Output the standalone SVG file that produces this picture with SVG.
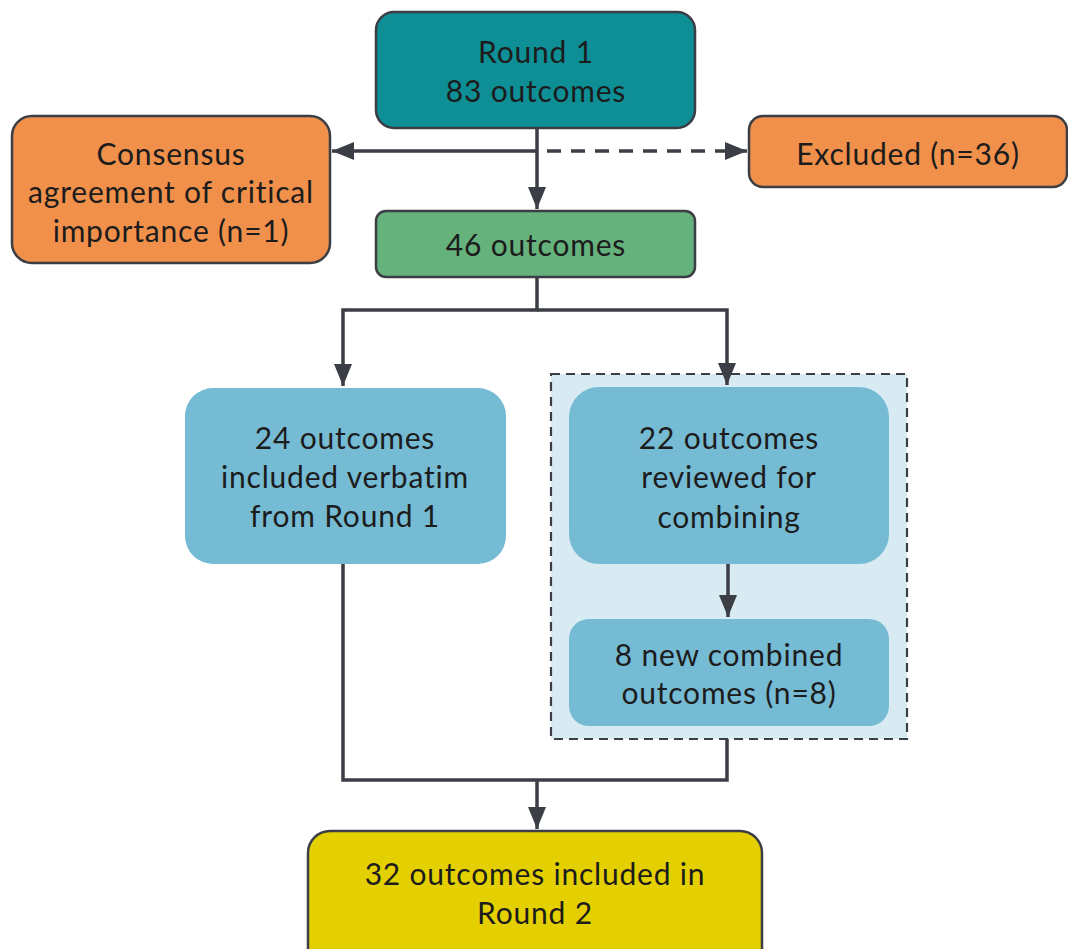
<svg xmlns="http://www.w3.org/2000/svg" width="1068" height="949" viewBox="0 0 1068 949">
  <style>
    .node { stroke: #3b3e45; stroke-width: 2.5; }
    .soft { stroke: none; }
    .lbl { font-family: "Lato", "Noto Sans", "Liberation Sans", sans-serif; font-size: 30px; letter-spacing: 0.8px; fill: #1c1c1c; text-anchor: middle; }
    .wire { fill: none; stroke: #3b3e45; stroke-width: 3.5; }
    .dash { stroke-dasharray: 14 10; }
  </style>
  <defs>
    <marker id="tip" viewBox="0 0 22 18" refX="22" refY="9" markerWidth="22" markerHeight="18" markerUnits="userSpaceOnUse" orient="auto">
      <path d="M0,0 L22,9 L0,18 z" fill="#3b3e45"/>
    </marker>
  </defs>

  <!-- grouping frame around the combining step -->
  <g id="combine-group">
    <rect x="551" y="374" width="356" height="365" fill="#d8ebf2" stroke="#3b3e45" stroke-width="2.2" stroke-dasharray="9 6"/>
  </g>

  <g id="connectors">
    <!-- Round 1 split -->
    <path class="wire" d="M537,128 V209" marker-end="url(#tip)"/>
    <path class="wire" d="M537,151 H332" marker-end="url(#tip)"/>
    <path class="wire dash" d="M547,151 H747" marker-end="url(#tip)"/>
    <!-- 46 outcomes split -->
    <path class="wire" d="M537,277 V310 H343 V386" marker-end="url(#tip)"/>
    <path class="wire" d="M537,310 H727 V385" marker-end="url(#tip)"/>
    <!-- combining -->
    <path class="wire" d="M728,564 V617" marker-end="url(#tip)"/>
    <!-- merge into Round 2 -->
    <path class="wire" d="M343,564 V780 H727 V739"/>
    <path class="wire" d="M537,780 V829" marker-end="url(#tip)"/>
  </g>

  <g id="round1">
    <rect class="node" x="376" y="12" width="319" height="116" rx="18" fill="#0d8f95"/>
    <text class="lbl" x="536" y="63">Round 1</text>
    <text class="lbl" x="536" y="102">83 outcomes</text>
  </g>

  <g id="consensus">
    <rect class="node" x="12" y="116" width="318" height="147" rx="20" fill="#f0904b"/>
    <text class="lbl" x="171" y="165">Consensus</text>
    <text class="lbl" x="171" y="203">agreement of critical</text>
    <text class="lbl" x="171" y="242">importance (n=1)</text>
  </g>

  <g id="excluded">
    <rect class="node" x="749" y="116" width="318" height="71" rx="14" fill="#f0904b"/>
    <text class="lbl" x="908" y="165">Excluded (n=36)</text>
  </g>

  <g id="outcomes46">
    <rect class="node" x="376" y="211" width="319" height="66" rx="10" fill="#66b27d"/>
    <text class="lbl" x="536" y="256">46 outcomes</text>
  </g>

  <g id="verbatim">
    <rect class="soft" x="185" y="388" width="321" height="176" rx="28" fill="#76bbd4"/>
    <text class="lbl" x="345" y="449">24 outcomes</text>
    <text class="lbl" x="345" y="488">included verbatim</text>
    <text class="lbl" x="345" y="527">from Round 1</text>
  </g>

  <g id="reviewed">
    <rect class="soft" x="569" y="387" width="320" height="177" rx="30" fill="#76bbd4"/>
    <text class="lbl" x="729" y="449">22 outcomes</text>
    <text class="lbl" x="729" y="488">reviewed for</text>
    <text class="lbl" x="729" y="528">combining</text>
  </g>

  <g id="combined">
    <rect class="soft" x="569" y="619" width="320" height="107" rx="20" fill="#76bbd4"/>
    <text class="lbl" x="729" y="666">8 new combined</text>
    <text class="lbl" x="729" y="704">outcomes (n=8)</text>
  </g>

  <g id="round2">
    <rect class="node" x="308" y="831" width="454" height="140" rx="22" fill="#e4d000"/>
    <text class="lbl" x="535" y="885">32 outcomes included in</text>
    <text class="lbl" x="535" y="924">Round 2</text>
  </g>
</svg>
